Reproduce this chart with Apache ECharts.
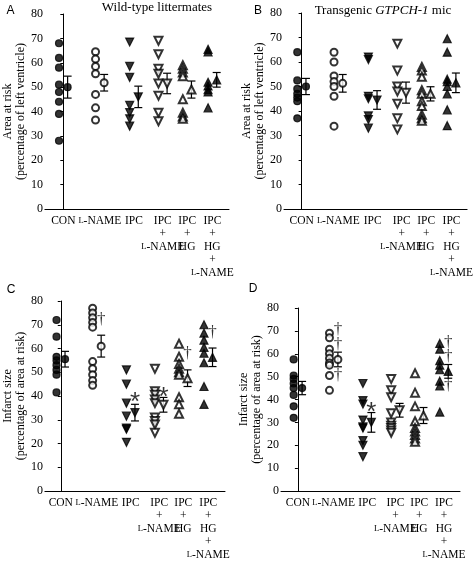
<!DOCTYPE html>
<html><head><meta charset="utf-8">
<script src="https://cdn.jsdelivr.net/npm/echarts@6/dist/echarts.min.js"></script>
<style>html,body{margin:0;padding:0;background:#fff}#c{width:476px;height:561px}</style>
</head><body><div id="c"></div>
<script>
// ---------- data ----------
const categories = ['CON', 'L-NAME', 'IPC', 'IPC\n+\nL-NAME', 'IPC\n+\nHG', 'IPC\n+\nHG\n+\nL-NAME'];
const yTicks = [0, 10, 20, 30, 40, 50, 60, 70, 80];

// A: wild-type, area at risk
const wtAreaCON   = [68, 62, 58, 51, 48, 44, 39, 28];
const wtAreaLN    = [64.5, 61.5, 58.5, 55.5, 47, 41.5, 36.5];
const wtAreaIPC   = [68.5, 58.5, 54, 42.5, 39.5, 37, 34];
const wtAreaIPCLN = [69, 63.5, 57.5, 55.5, 51.5, 46.5, 39.5, 36];
const wtAreaIPCHG = [59, 57.5, 56, 54.5, 45, 39.5, 38, 37];
const wtAreaIPCHGLN = [65.5, 64.5, 52, 50.5, 49, 48, 41.5];
const wtAreaMeans = [50, 51.8, 46, 51.5, 49, 53];
const wtAreaSEM   = [4.5, 3.4, 4.4, 4.2, 3.5, 3];

// B: transgenic, area at risk
const tgAreaCON   = [64, 52.5, 49, 47, 45.5, 44, 37];
const tgAreaLN    = [64, 60, 54.3, 52, 50, 46, 33.8];
const tgAreaIPC   = [62, 61, 46, 45, 38, 36.5, 33];
const tgAreaIPCLN = [67.5, 56.5, 50, 48, 43, 37, 32.5];
const tgAreaIPCHG = [58, 56.5, 54, 48.5, 47, 44, 42, 38.5, 37, 36];
const tgAreaIPCHGLN = [69.5, 64, 53, 52, 50, 47, 40.5, 34];
const tgAreaMeans = [50, 51.3, 44.5, 47.5, 47, 51.5];
const tgAreaSEM   = [3.3, 3.6, 3.8, 4.3, 2.9, 4];

// C: wild-type, infarct size
const wtInfCON   = [72, 65, 56.5, 55, 53, 51, 49, 41.5];
const wtInfLN    = [77, 75, 73, 71, 69, 54.5, 51.5, 49, 46.5, 44.5];
const wtInfIPC   = [51, 45, 37, 31.5, 26.5, 26, 20.5];
const wtInfIPCLN = [51.5, 42, 40.5, 38.5, 37, 31, 29.5, 28, 24.5];
const wtInfIPCHG = [62, 56.5, 53.5, 51.5, 50, 49, 39.5, 36.5, 32.5];
const wtInfIPCHGLN = [70, 66.5, 63.5, 60.5, 58, 54, 44, 36.5];
const wtInfMeans = [55.5, 61, 33, 36.3, 47.5, 56.3];
const wtInfSEM   = [3.3, 4.6, 3.5, 3.1, 3.5, 3.9];
const wtInfStars = [[2, 40], [3, 42]];
const wtInfDaggers = [[1, 72], [4, 57.8], [5, 66.8]];

// D: transgenic, infarct size
const tgInfCON   = [57.5, 50.5, 49, 47, 45, 42, 37, 32];
const tgInfLN    = [69, 67, 62, 60, 58, 56, 55, 50.5, 44];
const tgInfIPC   = [47, 39.5, 38, 31, 28, 27.5, 22, 20, 15];
const tgInfIPCLN = [49, 44, 41, 34, 30, 28.5, 27.5, 26.5, 25.5];
const tgInfIPCHG = [51.5, 43, 37, 30.5, 27.5, 26, 24.5, 23, 21.5];
const tgInfIPCHGLN = [64.5, 62, 57, 55, 53, 48, 46, 34.5];
const tgInfMeans = [45, 57.5, 30, 35.3, 33, 52.3];
const tgInfSEM   = [2.9, 3.2, 4.3, 3, 3.5, 3];
const tgInfStars = [[2, 37.2]];
const tgInfDaggers = [[1, 70.5], [1, 64], [1, 50.5], [5, 65], [5, 58.8], [5, 46]];

// ---------- layout / style ----------
const SERIF = 'Liberation Serif';
const SANS = 'Liberation Sans';
// column centres along the x axis (the original figure spaces its columns unevenly)
const columnPos = [0, 1.23, 2.38, 3.35, 4.17, 5.02];
const pointShift = 0.145;
const groupStyle = [
  {symbol: 'circle', rot: 0, size: 7},
  {symbol: 'emptyCircle', rot: 0, size: 7},
  {symbol: 'triangle', rot: 180, size: 8},
  {symbol: 'emptyTriangle', rot: 180, size: 8},
  {symbol: 'emptyTriangle', rot: 0, size: 8},
  {symbol: 'triangle', rot: 0, size: 8}
];

const panels = [
  {groups: [wtAreaCON, wtAreaLN, wtAreaIPC, wtAreaIPCLN, wtAreaIPCHG, wtAreaIPCHGLN], means: wtAreaMeans, sems: wtAreaSEM, stars: [], daggers: [],
   grid: {left: 43, top: 14, width: 186, height: 195}, xMin: -0.62, xMax: 5.58, yName: 'Area at risk\n(percentage of left ventricle)'},
  {groups: [tgAreaCON, tgAreaLN, tgAreaIPC, tgAreaIPCLN, tgAreaIPCHG, tgAreaIPCHGLN], means: tgAreaMeans, sems: tgAreaSEM, stars: [], daggers: [],
   grid: {left: 284, top: 13, width: 188, height: 196}, xMin: -0.59, xMax: 5.54, yName: 'Area at risk\n(percentage of left ventricle)'},
  {groups: [wtInfCON, wtInfLN, wtInfIPC, wtInfIPCLN, wtInfIPCHG, wtInfIPCHGLN], means: wtInfMeans, sems: wtInfSEM, stars: wtInfStars, daggers: wtInfDaggers,
   grid: {left: 42, top: 301, width: 183, height: 195}, xMin: -0.54, xMax: 5.59, yName: 'Infarct size\n(percentage of area at risk)'},
  {groups: [tgInfCON, tgInfLN, tgInfIPC, tgInfIPCLN, tgInfIPCHG, tgInfIPCHGLN], means: tgInfMeans, sems: tgInfSEM, stars: tgInfStars, daggers: tgInfDaggers,
   grid: {left: 281, top: 308, width: 179, height: 189}, xMin: -0.58, xMax: 5.57, yName: 'Infarct size\n(percentage of area at risk)'}
];

function catLabel(v) {
  const num = Number(v);
  let best = -1, bd = 1e9;
  columnPos.forEach((c, i) => { const d = Math.abs(c - num); if (d < bd) { bd = d; best = i; } });
  if (best < 0 || bd > 0.01) return '';
  return categories[best].replace(/L-NAME/g, '{sc|L}-NAME');
}

const grid = [], xAxis = [], yAxis = [], series = [];
panels.forEach((p, pi) => {
  grid.push(Object.assign({containLabel: false}, p.grid));
  // two label sets (even / odd columns) so that neighbouring multi-line labels are never culled
  [0, 1].forEach(parity => {
    xAxis.push({
      type: 'value', gridIndex: pi, min: p.xMin, max: p.xMax, position: 'bottom', offset: 0,
      axisLine: {show: parity === 0, onZero: false, lineStyle: {color: '#000', width: 1}},
      axisTick: {show: false}, splitLine: {show: false},
      axisLabel: {customValues: columnPos.filter((c, i) => i % 2 === parity), formatter: catLabel, margin: 5,
        showMinLabel: true, showMaxLabel: true, hideOverlap: false,
        color: '#000', fontFamily: SERIF, fontSize: 11.5, lineHeight: 13,
        rich: {sc: {fontFamily: SERIF, fontSize: 8.5, lineHeight: 13, color: '#000'}}}
    });
  });
  yAxis.push({
    type: 'value', gridIndex: pi, min: 0, max: 80, interval: 10,
    axisLine: {show: true, lineStyle: {color: '#000', width: 1}},
    axisTick: {show: true, length: 3, lineStyle: {color: '#000'}},
    splitLine: {show: false},
    axisLabel: {color: '#000', fontFamily: SERIF, fontSize: 12, margin: 2},
    name: p.yName, nameLocation: 'middle', nameGap: 16,
    nameTextStyle: {color: '#000', fontFamily: SERIF, fontSize: 12, lineHeight: 13}
  });
  const xi = 2 * pi;
  p.groups.forEach((vals, g) => {
    const st = groupStyle[g];
    const common = {
      type: 'scatter', xAxisIndex: xi, yAxisIndex: pi,
      symbol: st.symbol, symbolRotate: st.rot, symbolSize: st.size,
      itemStyle: {color: '#000', borderColor: '#000', borderWidth: 1.2}, silent: true
    };
    series.push(Object.assign({}, common, {data: vals.map(v => [columnPos[g] - pointShift, v]), z: 3}));
    series.push(Object.assign({}, common, {data: [[columnPos[g] + pointShift, p.means[g]]], z: 5}));
  });
  series.push({
    type: 'custom', xAxisIndex: xi, yAxisIndex: pi, z: 4, silent: true,
    data: p.means.map((m, g) => [columnPos[g] + pointShift, m, p.sems[g]]),
    encode: {x: 0, y: 1},
    renderItem: function (params, api) {
      const x = api.value(0), m = api.value(1), s = api.value(2);
      const t = api.coord([x, m + s]), b = api.coord([x, m - s]);
      const w = 4, style = {stroke: '#000', lineWidth: 1.2};
      return {type: 'group', children: [
        {type: 'line', shape: {x1: t[0], y1: t[1], x2: b[0], y2: b[1]}, style: style},
        {type: 'line', shape: {x1: t[0] - w, y1: t[1], x2: t[0] + w, y2: t[1]}, style: style},
        {type: 'line', shape: {x1: b[0] - w, y1: b[1], x2: b[0] + w, y2: b[1]}, style: style}
      ]};
    }
  });
  if (p.stars.length) series.push({
    type: 'scatter', xAxisIndex: xi, yAxisIndex: pi, z: 6, silent: true,
    symbolSize: 1, itemStyle: {color: 'rgba(0,0,0,0)'},
    data: p.stars.map(s => [columnPos[s[0]] + pointShift, s[1]]),
    label: {show: true, position: 'inside', formatter: '*', fontFamily: SANS, fontSize: 26, color: '#000', offset: [0, 7]}
  });
  if (p.daggers.length) series.push({
    type: 'scatter', xAxisIndex: xi, yAxisIndex: pi, z: 6, silent: true,
    symbolSize: 1, itemStyle: {color: 'rgba(0,0,0,0)'},
    data: p.daggers.map(s => [columnPos[s[0]] + pointShift, s[1]]),
    label: {show: true, position: 'inside', formatter: '\u2020', fontFamily: SERIF, fontSize: 17, color: '#000'}
  });
});

const graphic = [
  {type: 'text', x: 10.5, y: 11, style: {text: 'A', font: '12px ' + SANS, fill: '#000', textAlign: 'center', textVerticalAlign: 'middle'}},
  {type: 'text', x: 258, y: 11, style: {text: 'B', font: '12px ' + SANS, fill: '#000', textAlign: 'center', textVerticalAlign: 'middle'}},
  {type: 'text', x: 11, y: 290, style: {text: 'C', font: '12px ' + SANS, fill: '#000', textAlign: 'center', textVerticalAlign: 'middle'}},
  {type: 'text', x: 253, y: 289, style: {text: 'D', font: '12px ' + SANS, fill: '#000', textAlign: 'center', textVerticalAlign: 'middle'}},
  {type: 'text', x: 157, y: 8, style: {text: 'Wild-type littermates', font: '13px ' + SERIF, fill: '#000', textAlign: 'center', textVerticalAlign: 'middle'}},
  {type: 'text', x: 383, y: 11, style: {text: 'Transgenic {i|GTPCH-1} mic', font: '13px ' + SERIF, fill: '#000', textAlign: 'center', textVerticalAlign: 'middle',
    rich: {i: {fontStyle: 'italic', fontFamily: SERIF, fontSize: 13}}}}
];

const chart = echarts.init(document.getElementById('c'), null, {renderer: 'canvas'});
chart.setOption({animation: false, backgroundColor: '#fff', grid, xAxis, yAxis, series, graphic});
</script>
</body></html>
